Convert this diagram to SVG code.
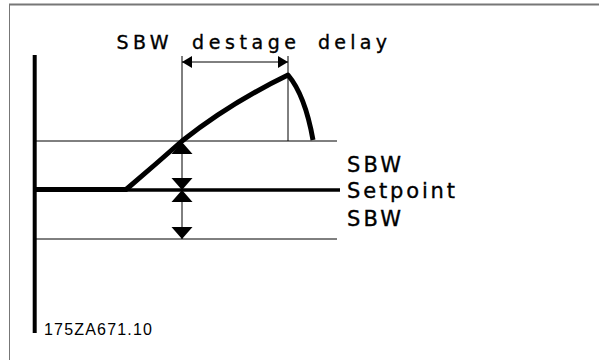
<svg xmlns="http://www.w3.org/2000/svg" width="599" height="360" viewBox="0 0 599 360">
<defs>
<style>
.thin{stroke:#000;stroke-width:1;fill:none}
.frame{stroke:#777;fill:none}
.lbl{font-family:"DejaVu Sans",sans-serif;font-size:21px;fill:#000;stroke:#000;stroke-width:0.35}
.ttl{font-family:"DejaVu Sans",sans-serif;font-size:19px;fill:#000;stroke:#000;stroke-width:0.35}
.code{font-family:"Liberation Sans",Arial,sans-serif;font-size:16px;fill:#000}
.head{fill:#000;stroke:none}
</style>
</defs>
<rect width="599" height="360" fill="#fff"/>
<g id="frame">
<line class="frame" x1="9" y1="4.5" x2="599" y2="4.5" stroke-width="2"/>
<line class="frame" x1="9.5" y1="4" x2="9.5" y2="360" stroke-width="1"/>
</g>
<g id="axis">
<line x1="34.7" y1="55" x2="34.7" y2="333" stroke="#000" stroke-width="4"/>
</g>
<g id="levels">
<line class="thin" x1="36" y1="141" x2="337" y2="141"/>
<line class="thin" x1="36" y1="239" x2="337" y2="239"/>
<line x1="36" y1="190" x2="340" y2="190" stroke="#000" stroke-width="3.5"/>
</g>
<g id="signal">
<path d="M36,189.5 H126 L129,187 Q156,164 182,141 Q230,103 288,75 Q305,95 313,140" fill="none" stroke="#000" stroke-width="5" stroke-linejoin="round"/>
</g>
<g id="connectors">
<line class="thin" x1="182" y1="56" x2="182" y2="141"/>
<line class="thin" x1="288" y1="56" x2="288" y2="141"/>
<line class="thin" x1="182" y1="62" x2="288" y2="62"/>
<polygon class="head" points="182,62 192,56 192,68"/>
<polygon class="head" points="288,62 278,56 278,68"/>
<line class="thin" x1="182" y1="141" x2="182" y2="239"/>
<polygon class="head" points="182,142 171.5,154 192.5,154"/>
<polygon class="head" points="182,190 171.5,178 192.5,178"/>
<polygon class="head" points="182,190 171.5,202 192.5,202"/>
<polygon class="head" points="182,239 171.5,227 192.5,227"/>
</g>
<g id="title">
<text class="ttl" y="49"><tspan x="116.5" textLength="52" lengthAdjust="spacing">SBW</tspan><tspan x="192" textLength="104" lengthAdjust="spacing">destage</tspan><tspan x="318" textLength="69" lengthAdjust="spacing">delay</tspan></text>
</g>
<g id="labels">
<text class="lbl" x="347" y="172" textLength="54" lengthAdjust="spacing">SBW</text>
<text class="lbl" x="347" y="197.5" textLength="108" lengthAdjust="spacing">Setpoint</text>
<text class="lbl" x="347" y="226" textLength="54" lengthAdjust="spacing">SBW</text>
</g>
<g id="code">
<text class="code" x="44" y="334.5" textLength="108" lengthAdjust="spacing">175ZA671.10</text>
</g>
</svg>
